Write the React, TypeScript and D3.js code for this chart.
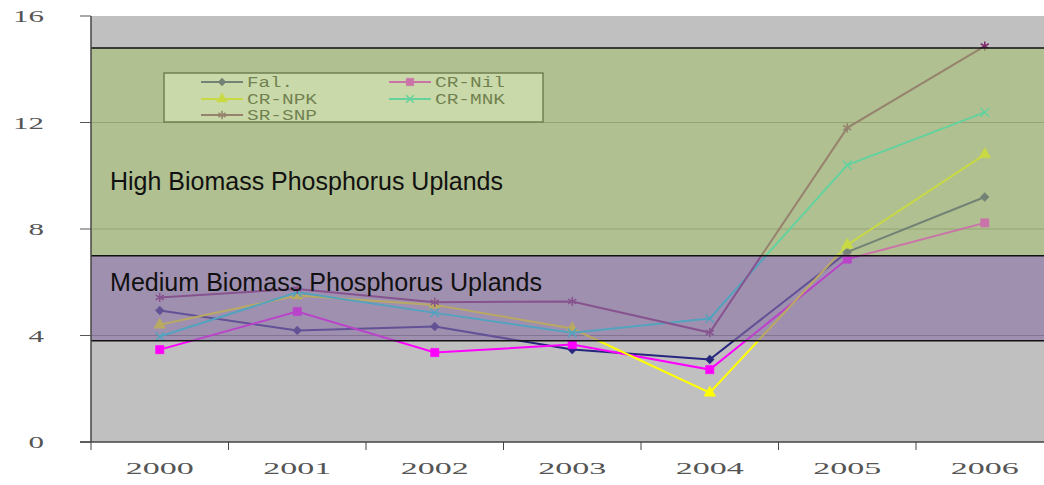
import React from 'react';
import * as d3 from 'd3';

const years = ['2000', '2001', '2002', '2003', '2004', '2005', '2006'];
const fal = [4.94, 4.19, 4.34, 3.47, 3.1, 7.13, 9.2];
const crNil = [3.47, 4.9, 3.36, 3.66, 2.72, 6.87, 8.23];
const crNpk = [4.4, 5.5, 5.15, 4.26, 1.85, 7.4, 10.8];
const crMnk = [3.96, 5.62, 4.85, 4.1, 4.64, 10.4, 12.38];
const srSnp = [5.43, 5.75, 5.25, 5.28, 4.11, 11.8, 14.87];
const yTicks = [0, 4, 8, 12, 16];
const highBand = [7.0, 14.8];
const mediumBand = [3.8, 7.0];

const series = [
  { name: 'Fal.', values: fal, color: '#26267e', symbol: d3.symbolDiamond2 || d3.symbolDiamond, fill: true, size: 50 },
  { name: 'CR-Nil', values: crNil, color: '#ff00ff', symbol: d3.symbolSquare, fill: true, size: 70 },
  { name: 'CR-NPK', values: crNpk, color: '#ffff00', symbol: d3.symbolTriangle, fill: true, size: 60 },
  { name: 'CR-MNK', values: crMnk, color: '#00eee4', symbol: d3.symbolX, fill: false, size: 50 },
  { name: 'SR-SNP', values: srSnp, color: '#802a6c', symbol: d3.symbolAsterisk, fill: false, size: 60 },
];

const W = 1044;
const H = 485;
const left = 91;
const top = 16;
const bottom = 442;
const step = 137.5;

export default function App() {
  const x = d3
    .scaleBand()
    .domain(years)
    .range([left, left + step * years.length])
    .padding(0);
  const y = d3.scaleLinear().domain([0, 16]).range([bottom, top]);
  const cx = (d: string) => (x(d) as number) + x.bandwidth() / 2;

  const line = d3
    .line<number>()
    .x((_, i) => cx(years[i]))
    .y((v) => y(v));

  // legend layout
  const legendPos = [
    { lx: 201, ty: 82 },
    { lx: 389, ty: 82 },
    { lx: 201, ty: 99 },
    { lx: 389, ty: 99 },
    { lx: 201, ty: 115 },
  ];

  const marker = (s: any, px: number, py: number, key: string, scale = 1) => (
    <path
      key={key}
      d={d3.symbol().type(s.symbol).size(s.size * scale)() as string}
      transform={`translate(${px},${py})`}
      fill={s.fill ? s.color : 'none'}
      stroke={s.color}
      strokeWidth={s.fill ? 0.5 : 1.5}
    />
  );

  return (
    <svg width={W} height={H} style={{ position: 'absolute', left: 0, top: 0, background: '#fff' }}>
      {/* plot background */}
      <rect x={left} y={top} width={W - left} height={bottom - top} fill="#c0c0c0" />

      {/* gridlines */}
      {yTicks
        .filter((t) => t > 0 && t < 16)
        .map((t) => (
          <line key={'g' + t} x1={left} x2={W} y1={y(t)} y2={y(t)} stroke="#7a7a7a" strokeWidth={1} />
        ))}

      {/* legend (sits under the band overlay) */}
      <rect x={164} y={73} width={379} height={49} fill="#ffffff" stroke="#222" strokeWidth={1.5} />
      {series.map((s, i) => {
        const p = legendPos[i];
        return (
          <g key={'l' + s.name}>
            <line x1={p.lx} x2={p.lx + 42} y1={p.ty} y2={p.ty} stroke={s.color} strokeWidth={2} />
            {marker(s, p.lx + 21, p.ty, 'lm' + s.name, 0.8)}
            <text
              x={p.lx + 46}
              y={p.ty + 5}
              fontFamily="'Liberation Mono', monospace"
              fontSize={14}
              textLength={s.name.length * 12 - 2}
              lengthAdjust="spacingAndGlyphs"
              fill="#222"
            >
              {s.name}
            </text>
          </g>
        );
      })}

      {/* series */}
      {series.map((s) => (
        <g key={s.name}>
          <path d={line(s.values) as string} fill="none" stroke={s.color} strokeWidth={2} />
          {s.values.map((v, i) => marker(s, cx(years[i]), y(v), s.name + i))}
        </g>
      ))}

      {/* band overlays */}
      <rect
        x={left}
        y={y(highBand[1])}
        width={W - left}
        height={y(highBand[0]) - y(highBand[1])}
        fill="rgb(165,192,112)"
        fillOpacity={0.6}
      />
      <rect
        x={left}
        y={y(mediumBand[1])}
        width={W - left}
        height={y(mediumBand[0]) - y(mediumBand[1])}
        fill="rgb(139,112,165)"
        fillOpacity={0.6}
      />
      {[highBand[1], highBand[0], mediumBand[0]].map((v) => (
        <line key={'b' + v} x1={left} x2={W} y1={y(v)} y2={y(v)} stroke="#111" strokeWidth={1.5} />
      ))}
      <text
        x={110}
        y={190}
        fontFamily="'Liberation Sans', Arial, sans-serif"
        fontSize={25}
        textLength={393}
        lengthAdjust="spacingAndGlyphs"
        fill="#111"
      >
        High Biomass Phosphorus Uplands
      </text>
      <text
        x={110}
        y={291}
        fontFamily="'Liberation Sans', Arial, sans-serif"
        fontSize={25}
        textLength={432}
        lengthAdjust="spacingAndGlyphs"
        fill="#111"
      >
        Medium Biomass Phosphorus Uplands
      </text>

      {/* y axis */}
      <line x1={left} x2={left} y1={top} y2={bottom} stroke="#444" strokeWidth={1.5} />
      {yTicks.map((t) => (
        <g key={'y' + t}>
          <line x1={80} x2={left} y1={y(t)} y2={y(t)} stroke="#555" strokeWidth={1} />
          <text
            x={44}
            y={y(t) + 6}
            textAnchor="end"
            fontFamily="'Liberation Serif', serif"
            fontSize={17}
            textLength={String(t).length * 15.5}
            lengthAdjust="spacingAndGlyphs"
            fill="#555"
          >
            {t}
          </text>
        </g>
      ))}

      {/* x axis */}
      <line x1={80} x2={W} y1={bottom} y2={bottom} stroke="#444" strokeWidth={1.5} />
      {years.map((yr) => (
        <g key={'x' + yr}>
          <line
            x1={x(yr) as number}
            x2={x(yr) as number}
            y1={bottom}
            y2={bottom + 8}
            stroke="#444"
            strokeWidth={1}
          />
          <text
            x={cx(yr) - 34}
            y={474}
            fontFamily="'Liberation Serif', serif"
            fontSize={17}
            textLength={68}
            lengthAdjust="spacingAndGlyphs"
            fill="#555"
          >
            {yr}
          </text>
        </g>
      ))}
    </svg>
  );
}
